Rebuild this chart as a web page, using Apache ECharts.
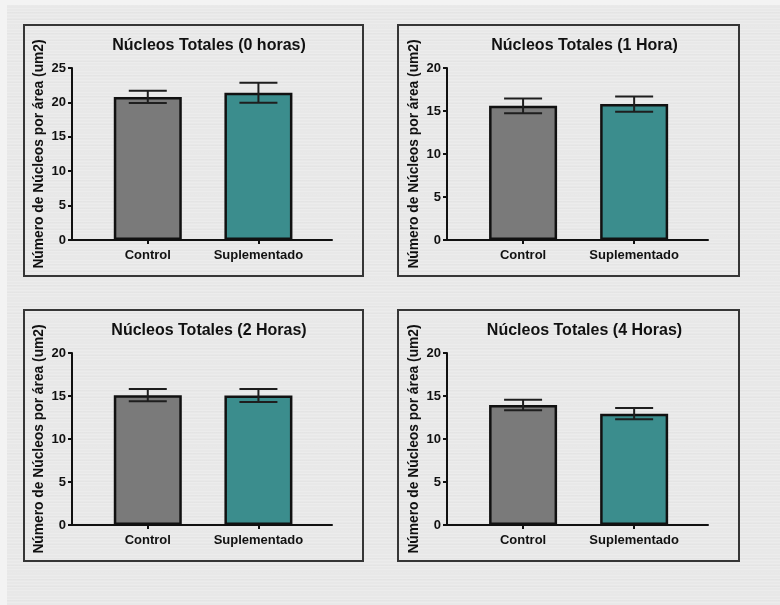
<!DOCTYPE html>
<html>
<head>
<meta charset="utf-8">
<script src="https://cdn.jsdelivr.net/npm/echarts@6/dist/echarts.min.js"></script>
<style>
  html, body { margin: 0; padding: 0; background: #f3f3f3; }
  #paper {
    position: absolute; left: 7px; top: 5px; width: 773px; height: 600px;
    background-color: #e8e8e8;
    background-image:
      repeating-linear-gradient(180deg, rgba(255,255,255,0.18) 0px, rgba(255,255,255,0.18) 1px, rgba(0,0,0,0) 1px, rgba(0,0,0,0) 3px),
      repeating-linear-gradient(180deg, rgba(0,0,0,0.015) 0px, rgba(0,0,0,0.015) 1px, rgba(0,0,0,0) 1px, rgba(0,0,0,0) 7px);
  }
  #chart { position: absolute; left: 0; top: 0; width: 780px; height: 605px; }
</style>
</head>
<body>
<div id="paper"></div>
<div id="chart"></div>
<script>
// Groups on the x axis
const categories = ['Control', 'Suplementado'];

// One panel per sampling time
const panelTitles = [
  'Núcleos Totales (0 horas)',
  'Núcleos Totales (1 Hora)',
  'Núcleos Totales (2 Horas)',
  'Núcleos Totales (4 Horas)'
];
const yAxisName = 'Número de Núcleos por área (um2)';
const yAxisMax = [25, 20, 20, 20];
const yTickStep = 5;

// Mean nuclei count per area and its standard error, per panel
const meanControl      = [20.8, 15.6, 15.1, 13.95];
const semControl       = [0.9, 0.85, 0.7, 0.6];
const meanSuplementado = [21.4, 15.8, 15.05, 12.95];
const semSuplementado  = [1.45, 0.9, 0.75, 0.65];

const barColors = ['#7a7a7a', '#3b8d8d'];
const FONT = '"Liberation Sans", Arial, Helvetica, sans-serif';
const INK = '#111';

// Panel frames and plot areas (px)
const frames = [
  { x: 24,  y: 25,  w: 339, h: 251 },
  { x: 398, y: 25,  w: 341, h: 251 },
  { x: 24,  y: 310, w: 339, h: 251 },
  { x: 398, y: 310, w: 341, h: 251 }
];
const plots = [
  { left: 72,  top: 68,  width: 260, height: 172 },
  { left: 447, top: 68,  width: 261, height: 172 },
  { left: 72,  top: 353, width: 260, height: 172 },
  { left: 447, top: 353, width: 261, height: 172 }
];

const chart = echarts.init(document.getElementById('chart'), null, { renderer: 'canvas' });

const titles = [], grids = [], xAxes = [], yAxes = [], series = [], graphics = [];

panelTitles.forEach((t, i) => {
  const p = plots[i];
  const f = frames[i];
  graphics.push({
    type: 'rect',
    shape: { x: f.x, y: f.y, width: f.w, height: f.h },
    style: { fill: 'none', stroke: '#363636', lineWidth: 2 },
    silent: true
  });
  titles.push({
    text: t,
    left: p.left + p.width / 2 + 2,
    top: p.top - 35,
    textAlign: 'center',
    textStyle: { fontFamily: FONT, fontWeight: 'bold', fontSize: 16, color: INK }
  });
  grids.push({ left: p.left, top: p.top, width: p.width, height: p.height, containLabel: false });

  // Group positions 0 and 1 on a value axis so the baseline can run past the bars
  xAxes.push({
    type: 'value',
    gridIndex: i,
    min: -0.685,
    max: 1.665,
    axisLine: { show: true, onZero: false, lineStyle: { color: INK, width: 2 } },
    axisTick: { show: true, customValues: [0, 1], length: 4, lineStyle: { color: INK, width: 2 } },
    axisLabel: {
      customValues: [0, 1],
      formatter: v => categories[Math.round(v)],
      fontFamily: FONT, fontWeight: 'bold', fontSize: 13, color: INK, margin: 9
    },
    splitLine: { show: false }
  });
  yAxes.push({
    type: 'value',
    gridIndex: i,
    min: 0,
    max: yAxisMax[i],
    interval: yTickStep,
    name: yAxisName,
    nameLocation: 'middle',
    nameGap: 26,
    nameRotate: 90,
    nameTextStyle: { fontFamily: FONT, fontWeight: 'bold', fontSize: 13.8, color: INK },
    axisLine: { show: true, onZero: false, lineStyle: { color: INK, width: 2 } },
    axisTick: { show: true, length: 4, lineStyle: { color: INK, width: 2 } },
    axisLabel: { fontFamily: FONT, fontWeight: 'bold', fontSize: 13, color: INK, margin: 6 },
    splitLine: { show: false }
  });

  const means = [meanControl[i], meanSuplementado[i]];
  const sems = [semControl[i], semSuplementado[i]];

  series.push({
    type: 'bar',
    xAxisIndex: i,
    yAxisIndex: i,
    barWidth: 68,
    z: 2,
    data: means.map((m, k) => ({
      value: [k, m],
      itemStyle: { color: barColors[k], borderColor: INK, borderWidth: 2.5 }
    }))
  });

  series.push({
    type: 'custom',
    xAxisIndex: i,
    yAxisIndex: i,
    z: 5,
    data: means.map((m, k) => [k, m, sems[k]]),
    encode: { x: 0, y: 1 },
    renderItem: (params, api) => {
      const x = api.value(0), m = api.value(1), e = api.value(2);
      const hi = api.coord([x, m + e]);
      const lo = api.coord([x, m - e]);
      const half = 19;
      const st = { stroke: '#1e1e1e', lineWidth: 2 };
      return {
        type: 'group',
        children: [
          { type: 'line', shape: { x1: hi[0], y1: hi[1], x2: lo[0], y2: lo[1] }, style: st },
          { type: 'line', shape: { x1: hi[0] - half, y1: hi[1], x2: hi[0] + half, y2: hi[1] }, style: st },
          { type: 'line', shape: { x1: lo[0] - half, y1: lo[1], x2: lo[0] + half, y2: lo[1] }, style: st }
        ]
      };
    }
  });
});

chart.setOption({
  backgroundColor: 'transparent',
  animation: false,
  title: titles,
  grid: grids,
  xAxis: xAxes,
  yAxis: yAxes,
  series: series,
  graphic: graphics
});
</script>
</body>
</html>
